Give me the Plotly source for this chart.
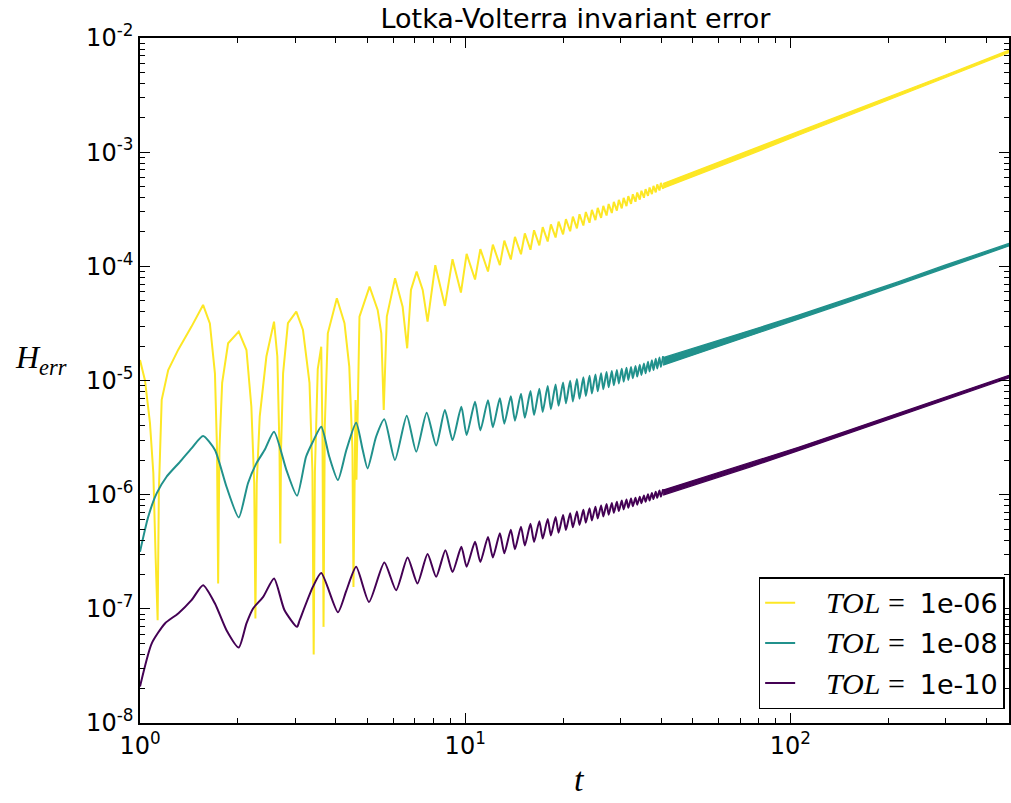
import plotly.graph_objects as go

# ---------------- data (H stored as log10(H_err)) ----------------
# early part, t in [1, 10]
t_early_y = [1.000, 1.036, 1.073, 1.099, 1.117, 1.133, 1.143, 1.166, 1.221, 1.311, 1.44, 1.563, 1.64, 1.70,
             1.725, 1.739, 1.755, 1.789, 1.866, 2.012, 2.125, 2.20, 2.245, 2.264, 2.285, 2.334, 2.447, 2.583,
             2.644, 2.685, 2.70, 2.715, 2.754, 2.85, 3.024, 3.17, 3.32, 3.39, 3.42, 3.45, 3.52, 3.608, 3.64,
             3.667, 3.70, 3.78, 4.03, 4.254, 4.40, 4.50, 4.533, 4.57, 4.60, 4.63, 4.68, 4.73, 5.08, 5.38, 5.52,
             5.616, 5.74, 6.085, 6.42, 6.63, 6.81, 7.09, 7.40, 7.66, 8.09, 8.66, 9.14, 9.70]
log_early_y = [-4.82, -5.00, -5.37, -5.81, -6.55, -7.10, -5.96, -5.17, -4.908, -4.73, -4.528, -4.338, -4.50, -4.94,
               -5.6, -6.778, -5.6, -5.02, -4.674, -4.572, -4.733, -5.23, -5.9, -7.085, -5.9, -5.317, -4.79, -4.484,
               -4.79, -5.6, -6.427, -5.6, -4.937, -4.498, -4.397, -4.557, -5.02, -5.8, -7.40, -5.8, -4.90, -4.704, -5.5,
               -7.158, -5.4, -4.587, -4.279, -4.498, -4.879, -5.6, -6.808, -5.6, -5.17, -5.87, -5.00, -4.44, -4.178,
               -4.382, -4.587, -5.259, -4.44, -4.104, -4.353, -4.718, -4.207, -4.046, -4.207, -4.484, -3.99, -4.347,
               -3.937, -4.23]

t_early_g = [1.000, 1.06, 1.125, 1.207, 1.327, 1.44, 1.563, 1.70, 1.845, 2.012, 2.148, 2.279, 2.416, 2.583, 2.82,
             3.04, 3.24, 3.40, 3.608, 3.82, 4.06, 4.31, 4.62, 4.84, 5.01, 5.32, 5.64, 6.08, 6.61, 7.07, 7.61, 8.14,
             8.66, 9.14, 9.73]
log_early_g = [-6.50, -6.194, -5.989, -5.843, -5.712, -5.594, -5.487, -5.609, -5.931, -6.20, -5.90, -5.726, -5.609,
               -5.449, -5.785, -6.01, -5.668, -5.536, -5.405, -5.668, -5.872, -5.609, -5.37, -5.609, -5.77, -5.493,
               -5.34, -5.697, -5.308, -5.624, -5.282, -5.57, -5.259, -5.522, -5.23]

t_early_p = [1.000, 1.086, 1.193, 1.311, 1.44, 1.563, 1.70, 1.845, 2.012, 2.125, 2.227, 2.392, 2.583, 2.78, 3.04,
             3.096, 3.40, 3.608, 4.06, 4.31, 4.62, 5.06, 5.64, 6.13, 6.65, 7.13, 7.66, 8.14, 8.69, 9.14, 9.73]
log_early_p = [-7.68, -7.304, -7.128, -7.04, -6.924, -6.793, -6.953, -7.187, -7.339, -7.128, -6.997, -6.895, -6.734,
               -7.01, -7.158, -7.10, -6.808, -6.687, -7.03, -6.84, -6.632, -6.94, -6.594, -6.837, -6.55, -6.778,
               -6.52, -6.72, -6.486, -6.678, -6.457]

# oscillating part, t in [10, 41]: alternating extrema
t_osc = [10.10, 10.72, 11.13, 11.75, 12.16, 12.78, 13.19, 13.81, 14.22, 14.84, 15.25, 15.87, 16.28, 16.90,
         17.31, 17.93, 18.34, 18.96, 19.37, 19.99, 20.40, 21.02, 21.43, 22.05, 22.46, 23.08, 23.49, 24.11,
         24.52, 25.14, 25.55, 26.17, 26.58, 27.20, 27.61, 28.23, 28.64, 29.26, 29.67, 30.29, 30.70, 31.32,
         31.73, 32.35, 32.76, 33.38, 33.79, 34.41, 34.82, 35.44, 35.85, 36.47, 36.88, 37.50, 37.91, 38.53,
         38.94, 39.56, 39.97, 40.59]
log_osc_y = [-3.891, -4.115, -3.849, -4.045, -3.810, -3.989, -3.775, -3.940, -3.742, -3.894, -3.712, -3.855,
             -3.684, -3.817, -3.657, -3.782, -3.632, -3.747, -3.608, -3.720, -3.586, -3.693, -3.564, -3.667,
             -3.544, -3.642, -3.524, -3.618, -3.506, -3.595, -3.488, -3.575, -3.471, -3.555, -3.454, -3.533,
             -3.436, -3.512, -3.418, -3.492, -3.401, -3.472, -3.385, -3.453, -3.369, -3.434, -3.353, -3.416,
             -3.338, -3.399, -3.324, -3.383, -3.310, -3.367, -3.296, -3.352, -3.282, -3.336, -3.269, -3.322]
log_osc_g = [-5.478, -5.186, -5.437, -5.172, -5.409, -5.156, -5.378, -5.139, -5.352, -5.116, -5.327, -5.093,
             -5.302, -5.073, -5.276, -5.049, -5.251, -5.034, -5.221, -5.018, -5.200, -5.003, -5.183, -4.987,
             -5.160, -4.972, -5.136, -4.958, -5.114, -4.947, -5.095, -4.936, -5.077, -4.926, -5.059, -4.917,
             -5.042, -4.907, -5.026, -4.898, -5.010, -4.889, -4.995, -4.881, -4.980, -4.872, -4.966, -4.863,
             -4.951, -4.850, -4.937, -4.836, -4.922, -4.823, -4.909, -4.810, -4.895, -4.798, -4.882, -4.786]
log_osc_p = [-6.632, -6.413, -6.590, -6.371, -6.550, -6.338, -6.514, -6.308, -6.478, -6.280, -6.446, -6.255,
             -6.414, -6.232, -6.385, -6.213, -6.358, -6.195, -6.333, -6.178, -6.309, -6.162, -6.286, -6.147,
             -6.265, -6.133, -6.245, -6.119, -6.226, -6.106, -6.208, -6.094, -6.191, -6.082, -6.175, -6.072,
             -6.159, -6.062, -6.144, -6.052, -6.129, -6.042, -6.115, -6.034, -6.101, -6.026, -6.088, -6.018,
             -6.075, -6.007, -6.063, -5.996, -6.051, -5.985, -6.039, -5.974, -6.028, -5.963, -6.017, -5.952]

# dense part, t in [41, 470]: upper / lower envelope of the fast oscillation
t_band = [40.59, 52, 75, 105.8, 150, 214, 300, 470]
log_band_y_hi = [-3.275, -3.158, -2.985, -2.822, -2.655, -2.486, -2.324, -2.107]
log_band_y_lo = [-3.315, -3.198, -3.021, -2.852, -2.681, -2.508, -2.344, -2.127]
log_band_g_hi = [-4.800, -4.707, -4.563, -4.427, -4.285, -4.137, -3.988, -3.799]
log_band_g_lo = [-4.866, -4.763, -4.607, -4.463, -4.315, -4.163, -4.012, -3.821]
log_band_p_hi = [-5.960, -5.863, -5.722, -5.585, -5.439, -5.288, -5.146, -4.954]
log_band_p_lo = [-6.004, -5.907, -5.758, -5.615, -5.465, -5.312, -5.168, -4.976]

series_names = ["1e-06", "1e-08", "1e-10"]
x_tick_vals = [1, 10, 100]
x_tick_text = ["10<sup>0</sup>", "10<sup>1</sup>", "10<sup>2</sup>"]
y_tick_vals = [1e-8, 1e-7, 1e-6, 1e-5, 1e-4, 1e-3, 1e-2]
y_tick_text = ["10<sup>-8</sup>", "10<sup>-7</sup>", "10<sup>-6</sup>", "10<sup>-5</sup>",
               "10<sup>-4</sup>", "10<sup>-3</sup>", "10<sup>-2</sup>"]

# ---------------- figure ----------------
colors = ["#fde725", "#21918c", "#440154"]
shapes = [dict(shape="linear"), dict(shape="spline", smoothing=0.6), dict(shape="spline", smoothing=0.6)]
series = [
    (t_early_y, log_early_y, log_osc_y, log_band_y_hi, log_band_y_lo),
    (t_early_g, log_early_g, log_osc_g, log_band_g_hi, log_band_g_lo),
    (t_early_p, log_early_p, log_osc_p, log_band_p_hi, log_band_p_lo),
]

def p10(v):
    return [10 ** a for a in v]

fig = go.Figure()
SERIF = "Liberation Serif"
NB = "&nbsp;"
for i, (te, le, lo, bh, bl) in enumerate(series):
    c = colors[i]
    name = (NB * 3 + '<span style="font-family:%s;font-size:30px"><i>TOL</i>%s=%s</span>%s'
            % (SERIF, NB, NB * 2, series_names[i]))
    fig.add_trace(go.Scatter(x=te + t_osc, y=p10(le + lo), mode="lines",
                             line=dict(color=c, width=2.0, **shapes[i]), name=name,
                             legendgroup="g%d" % i, legendrank=i + 1))
    fig.add_trace(go.Scatter(x=t_band, y=p10(bh), mode="lines", line=dict(color=c, width=1.3),
                             showlegend=False, legendgroup="g%d" % i, hoverinfo="skip"))
    fig.add_trace(go.Scatter(x=t_band, y=p10(bl), mode="lines", line=dict(color=c, width=1.3),
                             fill="tonexty", fillcolor=c, showlegend=False,
                             legendgroup="g%d" % i, hoverinfo="skip"))

x_minor = [m * 10 ** e for e in range(0, 3) for m in range(2, 10)]
y_minor = [m * 10.0 ** e for e in range(-8, -2) for m in range(2, 10)]

axis_common = dict(
    type="log", showgrid=False, zeroline=False, showline=True, linecolor="black", linewidth=1.6,
    mirror="allticks", ticks="inside", ticklen=10, tickwidth=1.2, tickcolor="black",
    tickfont=dict(family="DejaVu Sans", size=24, color="black"),
)
fig.update_xaxes(range=[0, 2.672], tickmode="array", tickvals=x_tick_vals, ticktext=x_tick_text,
                 minor=dict(tickvals=x_minor, ticks="inside", ticklen=5, tickcolor="black", tickwidth=1),
                 **axis_common)
fig.update_yaxes(range=[-8, -2], tickmode="array", tickvals=y_tick_vals, ticktext=y_tick_text,
                 minor=dict(tickvals=y_minor, ticks="inside", ticklen=5, tickcolor="black", tickwidth=1),
                 **axis_common)

fig.update_layout(
    width=1011, height=803,
    margin=dict(l=140, r=0, t=38, b=80),
    plot_bgcolor="white", paper_bgcolor="white",
    title=dict(text="Lotka-Volterra invariant error", x=(140 + 1011) / 2 / 1011, xanchor="center",
               y=1 - 19 / 803, yanchor="middle",
               font=dict(family="DejaVu Sans", size=27, color="black")),
    legend=dict(x=0.995, y=0.02, xanchor="right", yanchor="bottom", bgcolor="white",
                bordercolor="black", borderwidth=1.5, tracegroupgap=2,
                font=dict(family="DejaVu Sans", size=27, color="black")),
    showlegend=True,
)
fig.add_annotation(text="<i>H</i><sub><i>err</i></sub>", xref="paper", yref="paper",
                   x=-0.082, y=0.53, xanchor="right", yanchor="middle", showarrow=False,
                   font=dict(family=SERIF, size=32, color="black"))
fig.add_annotation(text="<i>t</i>", xref="paper", yref="paper",
                   x=0.506, y=-0.083, xanchor="center", yanchor="middle", showarrow=False,
                   font=dict(family=SERIF, size=34, color="black"))

fig.write_html("out.html")
